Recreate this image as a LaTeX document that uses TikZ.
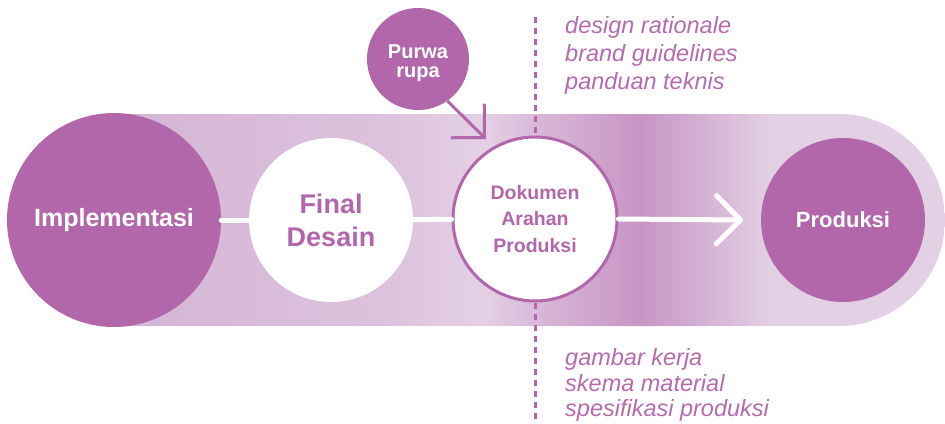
\documentclass[tikz,border=0pt]{standalone}
\usepackage{fontspec}
\setmainfont{Liberation Sans}
\usetikzlibrary{arrows.meta}

\definecolor{plum}{HTML}{B267AA}
\definecolor{plumtext}{HTML}{B56BAE}
\definecolor{bandA}{HTML}{D5B4D5}
\definecolor{bandB}{HTML}{DCC2DD}
\definecolor{bandC}{HTML}{E4D0E5}
\definecolor{bandD}{HTML}{D8B7D8}
\definecolor{bandE}{HTML}{C895C5}
\definecolor{bandF}{HTML}{D3AFD3}
\definecolor{bandG}{HTML}{E3D0E4}

% horizontal shading of the process band (25bp..75bp spans the band)
\pgfdeclarehorizontalshading{bandshade}{100bp}{%
  color(0bp)=(bandA); color(25bp)=(bandA); color(41bp)=(bandB);
  color(47.3bp)=(bandC); color(50.6bp)=(bandD); color(56.6bp)=(bandE);
  color(60.2bp)=(bandF); color(64.5bp)=(bandG); color(100bp)=(bandG)}

\tikzset{
  stage/.style={circle, inner sep=0pt, align=center},
  darkstage/.style={stage, fill=plum, text=white},
  lightstage/.style={stage, fill=white, text=plum},
  flow/.style={draw=white, line width=5pt, line cap=round},
  feed/.style={draw=plum, line width=3pt},
  divider/.style={draw=plum, line width=3pt, dash pattern=on 6pt off 5pt},
  note/.style={text=plumtext, inner sep=0pt, anchor=base west,
    font=\fontsize{23.5}{28}\selectfont\itshape},
}

\begin{document}
\begin{tikzpicture}[x=1pt, y=-1pt]
  \useasboundingbox (0,0) rectangle (945,423);

  % shaded band behind the stages
  \shade[shading=bandshade] (114,114) -- (839,114)
    arc[start angle=-90, end angle=90, radius=106] -- (114,326) -- cycle;

  % vertical divider
  \coordinate (divtop) at (535,17);
  \coordinate (divbot) at (535,421);
  \draw[divider] (divtop) -- (divbot);

  % stages
  \node[darkstage, minimum size=214pt, font=\fontsize{25}{30}\selectfont\bfseries]
    (impl) at (114,220) {Implementasi};
  \node[lightstage, minimum size=164pt, font=\fontsize{27}{33}\selectfont\bfseries]
    (final) at (331,220) {Final\\Desain};
  \node[lightstage, draw=plum, line width=3pt, minimum size=164pt,
    font=\fontsize{19.5}{26.5}\selectfont\bfseries]
    (doc) at (535,219) {Dokumen\\Arahan\\Produksi};
  \node[darkstage, minimum size=164pt, font=\fontsize{22}{26}\selectfont\bfseries]
    (prod) at (843,220) {Produksi};
  % the two lines sit a little below the centre of the circle
  \node[darkstage, minimum size=102pt, font=\fontsize{20}{19}\selectfont\bfseries]
    (purwa) at (418,59)
    {\raisebox{-10pt}[0pt][0pt]{\begin{tabular}{@{}c@{}}Purwa\\rupa\end{tabular}}};

  % flow connectors
  \coordinate (flowtip) at (743,220);
  \draw[flow] (impl) -- (final);
  \draw[flow] (final) -- (doc);
  \draw[flow, -{Straight Barb[length=24pt, width=48pt, round]}] (doc.east) -- (flowtip);

  % prototype feeding into the document
  \coordinate (feedtip) at (486,139);
  \draw[feed, -{Straight Barb[length=24pt, width=48pt]}] (purwa.-55) -- (feedtip);

  % document contents
  \node[note] (up1) at (565,33) {design rationale};
  \node[note] (up2) at (565,61) {brand guidelines};
  \node[note] (up3) at (565,89) {panduan teknis};
  \node[note] (dn1) at (565,365) {gambar kerja};
  \node[note] (dn2) at (565,391) {skema material};
  \node[note] (dn3) at (565,416) {spesifikasi produksi};
\end{tikzpicture}
\end{document}
